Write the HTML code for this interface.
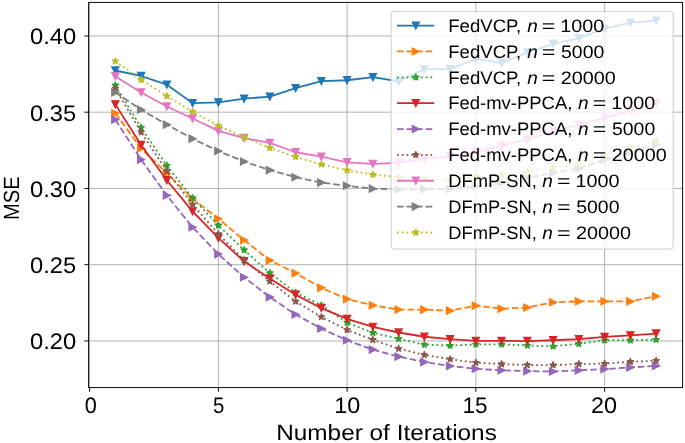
<!DOCTYPE html>
<html><head><meta charset="utf-8"><style>html,body{margin:0;padding:0;background:#fff;}svg{display:block;font-family:"Liberation Sans",sans-serif;text-rendering:geometricPrecision;filter:blur(0.3px);}</style></head><body>
<svg width="685" height="443" viewBox="0 0 685 443">
<rect width="685" height="443" fill="#fff"/>
<defs><clipPath id="ax"><rect x="88.6" y="2.4" width="594" height="385.2"/></clipPath></defs>
<path d="M89.6,2.4V387.6M218.35,2.4V387.6M347.1,2.4V387.6M475.85,2.4V387.6M604.6,2.4V387.6M88.6,340.94H682.6M88.6,264.69H682.6M88.6,188.44H682.6M88.6,112.19H682.6M88.6,35.94H682.6" stroke="#b0b0b0" stroke-width="0.96" fill="none"/>
<g clip-path="url(#ax)">
<polyline points="115.35,70.5 141.1,75.99 166.85,84.68 192.6,103.14 218.35,102.37 244.1,98.71 269.85,96.58 295.6,88.19 321.35,81.18 347.1,80.26 372.85,77.21 398.6,81.33 424.35,69.13 450.1,69.13 475.85,58.91 501.6,63.18 527.35,52.5 553.1,43.81 578.85,38.17 604.6,28.71 630.35,22.62 656.1,20.63" fill="none" stroke="#1f77b4" stroke-width="1.8" stroke-linejoin="round"/>
<path d="M115.35,74.1L111.75,66.9L118.95,66.9ZM141.1,79.59L137.5,72.39L144.7,72.39ZM166.85,88.28L163.25,81.08L170.45,81.08ZM192.6,106.73L189,99.54L196.2,99.54ZM218.35,105.97L214.75,98.77L221.95,98.77ZM244.1,102.31L240.5,95.11L247.7,95.11ZM269.85,100.18L266.25,92.98L273.45,92.98ZM295.6,91.79L292,84.59L299.2,84.59ZM321.35,84.78L317.75,77.58L324.95,77.58ZM347.1,83.86L343.5,76.66L350.7,76.66ZM372.85,80.81L369.25,73.61L376.45,73.61ZM398.6,84.93L395,77.73L402.2,77.73ZM424.35,72.73L420.75,65.53L427.95,65.53ZM450.1,72.73L446.5,65.53L453.7,65.53ZM475.85,62.51L472.25,55.31L479.45,55.31ZM501.6,66.78L498,59.58L505.2,59.58ZM527.35,56.1L523.75,48.9L530.95,48.9ZM553.1,47.41L549.5,40.21L556.7,40.21ZM578.85,41.77L575.25,34.57L582.45,34.57ZM604.6,32.31L601,25.11L608.2,25.11ZM630.35,26.22L626.75,19.02L633.95,19.02ZM656.1,24.23L652.5,17.03L659.7,17.03Z" fill="#1f77b4" stroke="#1f77b4" stroke-width="1.2" stroke-linejoin="miter"/>
<polyline points="115.35,113.2 141.1,148.43 166.85,173.29 192.6,198.75 218.35,218.73 244.1,240.08 269.85,260.36 295.6,273.17 321.35,287.81 347.1,299.1 372.85,305.35 398.6,309.62 424.35,309.62 450.1,310.69 475.85,305.66 501.6,308.7 527.35,307.49 553.1,302.3 578.85,301.38 604.6,301.38 630.35,301.38 656.1,296.2" fill="none" stroke="#ff7f0e" stroke-width="1.8" stroke-linejoin="round" stroke-dasharray="6.66,2.88"/>
<path d="M118.95,113.2L111.75,109.6L111.75,116.8ZM144.7,148.43L137.5,144.83L137.5,152.03ZM170.45,173.29L163.25,169.69L163.25,176.89ZM196.2,198.75L189,195.15L189,202.35ZM221.95,218.73L214.75,215.13L214.75,222.33ZM247.7,240.08L240.5,236.48L240.5,243.68ZM273.45,260.36L266.25,256.76L266.25,263.96ZM299.2,273.17L292,269.57L292,276.77ZM324.95,287.81L317.75,284.21L317.75,291.41ZM350.7,299.1L343.5,295.5L343.5,302.7ZM376.45,305.35L369.25,301.75L369.25,308.95ZM402.2,309.62L395,306.02L395,313.22ZM427.95,309.62L420.75,306.02L420.75,313.22ZM453.7,310.69L446.5,307.09L446.5,314.29ZM479.45,305.66L472.25,302.06L472.25,309.26ZM505.2,308.7L498,305.1L498,312.31ZM530.95,307.49L523.75,303.88L523.75,311.09ZM556.7,302.3L549.5,298.7L549.5,305.9ZM582.45,301.38L575.25,297.78L575.25,304.99ZM608.2,301.38L601,297.78L601,304.99ZM633.95,301.38L626.75,297.78L626.75,304.99ZM659.7,296.2L652.5,292.6L652.5,299.8Z" fill="#ff7f0e" stroke="#ff7f0e" stroke-width="1.2" stroke-linejoin="miter"/>
<polyline points="115.35,85.29 141.1,127.54 166.85,165.66 192.6,197.99 218.35,225.29 244.1,249.99 269.85,273.02 295.6,292.54 321.35,305.2 347.1,322.58 372.85,332.8 398.6,338.75 424.35,344.69 450.1,345.61 475.85,344.39 501.6,344.39 527.35,345.46 553.1,346.37 578.85,343.78 604.6,340.27 630.35,340.27 656.1,339.66" fill="none" stroke="#2ca02c" stroke-width="1.8" stroke-linejoin="round" stroke-dasharray="1.8,2.97"/>
<path d="M115.35,81.69L114.54,84.18L111.93,84.18L114.04,85.72L113.23,88.2L115.35,86.67L117.47,88.2L116.66,85.72L118.77,84.18L116.16,84.18ZM141.1,123.94L140.29,126.42L137.68,126.42L139.79,127.96L138.98,130.45L141.1,128.91L143.22,130.45L142.41,127.96L144.52,126.42L141.91,126.42ZM166.85,162.06L166.04,164.55L163.43,164.55L165.54,166.08L164.73,168.57L166.85,167.04L168.97,168.57L168.16,166.08L170.27,164.55L167.66,164.55ZM192.6,194.39L191.79,196.88L189.18,196.88L191.29,198.41L190.48,200.9L192.6,199.37L194.72,200.9L193.91,198.41L196.02,196.88L193.41,196.88ZM218.35,221.69L217.54,224.18L214.93,224.18L217.04,225.71L216.23,228.2L218.35,226.66L220.47,228.2L219.66,225.71L221.77,224.18L219.16,224.18ZM244.1,246.39L243.29,248.88L240.68,248.88L242.79,250.42L241.98,252.9L244.1,251.37L246.22,252.9L245.41,250.42L247.52,248.88L244.91,248.88ZM269.85,269.42L269.04,271.91L266.43,271.91L268.54,273.44L267.73,275.93L269.85,274.4L271.97,275.93L271.16,273.44L273.27,271.91L270.66,271.91ZM295.6,288.94L294.79,291.43L292.18,291.43L294.29,292.96L293.48,295.45L295.6,293.92L297.72,295.45L296.91,292.96L299.02,291.43L296.41,291.43ZM321.35,301.6L320.54,304.09L317.93,304.09L320.04,305.62L319.23,308.11L321.35,306.57L323.47,308.11L322.66,305.62L324.77,304.09L322.16,304.09ZM347.1,318.98L346.29,321.47L343.68,321.47L345.79,323.01L344.98,325.49L347.1,323.96L349.22,325.49L348.41,323.01L350.52,321.47L347.91,321.47ZM372.85,329.2L372.04,331.69L369.43,331.69L371.54,333.22L370.73,335.71L372.85,334.18L374.97,335.71L374.16,333.22L376.27,331.69L373.66,331.69ZM398.6,335.15L397.79,337.64L395.18,337.64L397.29,339.17L396.48,341.66L398.6,340.12L400.72,341.66L399.91,339.17L402.02,337.64L399.41,337.64ZM424.35,341.09L423.54,343.58L420.93,343.58L423.04,345.12L422.23,347.61L424.35,346.07L426.47,347.61L425.66,345.12L427.77,343.58L425.16,343.58ZM450.1,342.01L449.29,344.5L446.68,344.5L448.79,346.03L447.98,348.52L450.1,346.99L452.22,348.52L451.41,346.03L453.52,344.5L450.91,344.5ZM475.85,340.79L475.04,343.28L472.43,343.28L474.54,344.81L473.73,347.3L475.85,345.77L477.97,347.3L477.16,344.81L479.27,343.28L476.66,343.28ZM501.6,340.79L500.79,343.28L498.18,343.28L500.29,344.81L499.48,347.3L501.6,345.77L503.72,347.3L502.91,344.81L505.02,343.28L502.41,343.28ZM527.35,341.86L526.54,344.35L523.93,344.35L526.04,345.88L525.23,348.37L527.35,346.83L529.47,348.37L528.66,345.88L530.77,344.35L528.16,344.35ZM553.1,342.77L552.29,345.26L549.68,345.26L551.79,346.8L550.98,349.28L553.1,347.75L555.22,349.28L554.41,346.8L556.52,345.26L553.91,345.26ZM578.85,340.18L578.04,342.67L575.43,342.67L577.54,344.2L576.73,346.69L578.85,345.16L580.97,346.69L580.16,344.2L582.27,342.67L579.66,342.67ZM604.6,336.67L603.79,339.16L601.18,339.16L603.29,340.7L602.48,343.18L604.6,341.65L606.72,343.18L605.91,340.7L608.02,339.16L605.41,339.16ZM630.35,336.67L629.54,339.16L626.93,339.16L629.04,340.7L628.23,343.18L630.35,341.65L632.47,343.18L631.66,340.7L633.77,339.16L631.16,339.16ZM656.1,336.06L655.29,338.55L652.68,338.55L654.79,340.09L653.98,342.57L656.1,341.04L658.22,342.57L657.41,340.09L659.52,338.55L656.91,338.55Z" fill="#2ca02c" stroke="#2ca02c" stroke-width="1.2" stroke-linejoin="bevel"/>
<polyline points="115.35,104.36 141.1,144.92 166.85,180.3 192.6,211.41 218.35,237.95 244.1,261.28 269.85,278.51 295.6,294.68 321.35,308.1 347.1,318.92 372.85,326.85 398.6,332.5 424.35,336.76 450.1,339.21 475.85,340.88 501.6,340.88 527.35,341.04 553.1,340.27 578.85,339.21 604.6,336.92 630.35,335.39 656.1,333.56" fill="none" stroke="#d62728" stroke-width="1.8" stroke-linejoin="round"/>
<path d="M115.35,107.96L111.75,100.76L118.95,100.76ZM141.1,148.52L137.5,141.32L144.7,141.32ZM166.85,183.9L163.25,176.7L170.45,176.7ZM192.6,215.01L189,207.81L196.2,207.81ZM218.35,241.55L214.75,234.35L221.95,234.35ZM244.1,264.88L240.5,257.68L247.7,257.68ZM269.85,282.11L266.25,274.91L273.45,274.91ZM295.6,298.28L292,291.07L299.2,291.07ZM321.35,311.7L317.75,304.5L324.95,304.5ZM347.1,322.52L343.5,315.32L350.7,315.32ZM372.85,330.45L369.25,323.25L376.45,323.25ZM398.6,336.1L395,328.89L402.2,328.89ZM424.35,340.37L420.75,333.16L427.95,333.16ZM450.1,342.81L446.5,335.61L453.7,335.61ZM475.85,344.48L472.25,337.28L479.45,337.28ZM501.6,344.48L498,337.28L505.2,337.28ZM527.35,344.64L523.75,337.44L530.95,337.44ZM553.1,343.87L549.5,336.67L556.7,336.67ZM578.85,342.81L575.25,335.61L582.45,335.61ZM604.6,340.52L601,333.32L608.2,333.32ZM630.35,338.99L626.75,331.79L633.95,331.79ZM656.1,337.16L652.5,329.96L659.7,329.96Z" fill="#d62728" stroke="#d62728" stroke-width="1.2" stroke-linejoin="miter"/>
<polyline points="115.35,119.61 141.1,159.56 166.85,195.4 192.6,227.27 218.35,254.11 244.1,277.29 269.85,297.12 295.6,314.5 321.35,328.53 347.1,340.27 372.85,349.57 398.6,356.59 424.35,362.08 450.1,366.05 475.85,368.79 501.6,370.31 527.35,371.08 553.1,371.54 578.85,370.31 604.6,369.1 630.35,367.42 656.1,365.89" fill="none" stroke="#9467bd" stroke-width="1.8" stroke-linejoin="round" stroke-dasharray="6.66,2.88"/>
<path d="M118.95,119.61L111.75,116.01L111.75,123.21ZM144.7,159.56L137.5,155.96L137.5,163.16ZM170.45,195.4L163.25,191.8L163.25,199ZM196.2,227.27L189,223.67L189,230.87ZM221.95,254.11L214.75,250.51L214.75,257.71ZM247.7,277.29L240.5,273.69L240.5,280.89ZM273.45,297.12L266.25,293.51L266.25,300.72ZM299.2,314.5L292,310.9L292,318.1ZM324.95,328.53L317.75,324.93L317.75,332.13ZM350.7,340.27L343.5,336.67L343.5,343.87ZM376.45,349.57L369.25,345.97L369.25,353.18ZM402.2,356.59L395,352.99L395,360.19ZM427.95,362.08L420.75,358.48L420.75,365.68ZM453.7,366.05L446.5,362.44L446.5,369.65ZM479.45,368.79L472.25,365.19L472.25,372.39ZM505.2,370.31L498,366.71L498,373.92ZM530.95,371.08L523.75,367.48L523.75,374.68ZM556.7,371.54L549.5,367.94L549.5,375.14ZM582.45,370.31L575.25,366.71L575.25,373.92ZM608.2,369.1L601,365.5L601,372.7ZM633.95,367.42L626.75,363.82L626.75,371.02ZM659.7,365.89L652.5,362.29L652.5,369.49Z" fill="#9467bd" stroke="#9467bd" stroke-width="1.2" stroke-linejoin="miter"/>
<polyline points="115.35,88.34 141.1,132.11 166.85,171 192.6,204.55 218.35,233.98 244.1,260.06 269.85,281.41 295.6,301.38 321.35,316.94 347.1,329.9 372.85,339.81 398.6,348.66 424.35,354.91 450.1,359.18 475.85,362.69 501.6,364.06 527.35,364.98 553.1,365.13 578.85,364.06 604.6,363.61 630.35,361.78 656.1,360.71" fill="none" stroke="#8c564b" stroke-width="1.8" stroke-linejoin="round" stroke-dasharray="1.8,2.97"/>
<path d="M115.35,84.74L114.54,87.23L111.93,87.23L114.04,88.77L113.23,91.25L115.35,89.72L117.47,91.25L116.66,88.77L118.77,87.23L116.16,87.23ZM141.1,128.51L140.29,131L137.68,131L139.79,132.53L138.98,135.02L141.1,133.49L143.22,135.02L142.41,132.53L144.52,131L141.91,131ZM166.85,167.4L166.04,169.89L163.43,169.89L165.54,171.42L164.73,173.91L166.85,172.37L168.97,173.91L168.16,171.42L170.27,169.89L167.66,169.89ZM192.6,200.95L191.79,203.44L189.18,203.44L191.29,204.97L190.48,207.46L192.6,205.92L194.72,207.46L193.91,204.97L196.02,203.44L193.41,203.44ZM218.35,230.38L217.54,232.87L214.93,232.87L217.04,234.4L216.23,236.89L218.35,235.36L220.47,236.89L219.66,234.4L221.77,232.87L219.16,232.87ZM244.1,256.46L243.29,258.95L240.68,258.95L242.79,260.48L241.98,262.97L244.1,261.43L246.22,262.97L245.41,260.48L247.52,258.95L244.91,258.95ZM269.85,277.81L269.04,280.3L266.43,280.3L268.54,281.83L267.73,284.32L269.85,282.78L271.97,284.32L271.16,281.83L273.27,280.3L270.66,280.3ZM295.6,297.78L294.79,300.27L292.18,300.27L294.29,301.81L293.48,304.3L295.6,302.76L297.72,304.3L296.91,301.81L299.02,300.27L296.41,300.27ZM321.35,313.34L320.54,315.83L317.93,315.83L320.04,317.36L319.23,319.85L321.35,318.32L323.47,319.85L322.66,317.36L324.77,315.83L322.16,315.83ZM347.1,326.3L346.29,328.79L343.68,328.79L345.79,330.33L344.98,332.81L347.1,331.28L349.22,332.81L348.41,330.33L350.52,328.79L347.91,328.79ZM372.85,336.21L372.04,338.7L369.43,338.7L371.54,340.24L370.73,342.73L372.85,341.19L374.97,342.73L374.16,340.24L376.27,338.7L373.66,338.7ZM398.6,345.06L397.79,347.55L395.18,347.55L397.29,349.08L396.48,351.57L398.6,350.04L400.72,351.57L399.91,349.08L402.02,347.55L399.41,347.55ZM424.35,351.31L423.54,353.8L420.93,353.8L423.04,355.34L422.23,357.82L424.35,356.29L426.47,357.82L425.66,355.34L427.77,353.8L425.16,353.8ZM450.1,355.58L449.29,358.07L446.68,358.07L448.79,359.61L447.98,362.09L450.1,360.56L452.22,362.09L451.41,359.61L453.52,358.07L450.91,358.07ZM475.85,359.09L475.04,361.58L472.43,361.58L474.54,363.11L473.73,365.6L475.85,364.07L477.97,365.6L477.16,363.11L479.27,361.58L476.66,361.58ZM501.6,360.46L500.79,362.95L498.18,362.95L500.29,364.49L499.48,366.97L501.6,365.44L503.72,366.97L502.91,364.49L505.02,362.95L502.41,362.95ZM527.35,361.38L526.54,363.87L523.93,363.87L526.04,365.4L525.23,367.89L527.35,366.35L529.47,367.89L528.66,365.4L530.77,363.87L528.16,363.87ZM553.1,361.53L552.29,364.02L549.68,364.02L551.79,365.55L550.98,368.04L553.1,366.51L555.22,368.04L554.41,365.55L556.52,364.02L553.91,364.02ZM578.85,360.46L578.04,362.95L575.43,362.95L577.54,364.49L576.73,366.97L578.85,365.44L580.97,366.97L580.16,364.49L582.27,362.95L579.66,362.95ZM604.6,360L603.79,362.49L601.18,362.49L603.29,364.03L602.48,366.52L604.6,364.98L606.72,366.52L605.91,364.03L608.02,362.49L605.41,362.49ZM630.35,358.18L629.54,360.66L626.93,360.66L629.04,362.2L628.23,364.69L630.35,363.15L632.47,364.69L631.66,362.2L633.77,360.66L631.16,360.66ZM656.1,357.11L655.29,359.6L652.68,359.6L654.79,361.13L653.98,363.62L656.1,362.08L658.22,363.62L657.41,361.13L659.52,359.6L656.91,359.6Z" fill="#8c564b" stroke="#8c564b" stroke-width="1.2" stroke-linejoin="bevel"/>
<polyline points="115.35,76.3 141.1,92.46 166.85,106.49 192.6,118.54 218.35,130.89 244.1,138.06 269.85,142.94 295.6,152.24 321.35,156.66 347.1,162.31 372.85,163.83 398.6,162.92 424.35,158.95 450.1,156.36 475.85,151.78 501.6,145.68 527.35,139.58 553.1,130.89 578.85,124.79 604.6,117.78 630.35,110.91 656.1,103.14" fill="none" stroke="#e377c2" stroke-width="1.8" stroke-linejoin="round"/>
<path d="M115.35,79.89L111.75,72.7L118.95,72.7ZM141.1,96.06L137.5,88.86L144.7,88.86ZM166.85,110.09L163.25,102.89L170.45,102.89ZM192.6,122.14L189,114.94L196.2,114.94ZM218.35,134.49L214.75,127.29L221.95,127.29ZM244.1,141.66L240.5,134.46L247.7,134.46ZM269.85,146.54L266.25,139.34L273.45,139.34ZM295.6,155.84L292,148.64L299.2,148.64ZM321.35,160.26L317.75,153.06L324.95,153.06ZM347.1,165.91L343.5,158.71L350.7,158.71ZM372.85,167.43L369.25,160.23L376.45,160.23ZM398.6,166.52L395,159.32L402.2,159.32ZM424.35,162.55L420.75,155.35L427.95,155.35ZM450.1,159.96L446.5,152.76L453.7,152.76ZM475.85,155.38L472.25,148.18L479.45,148.18ZM501.6,149.28L498,142.08L505.2,142.08ZM527.35,143.18L523.75,135.98L530.95,135.98ZM553.1,134.49L549.5,127.29L556.7,127.29ZM578.85,128.39L575.25,121.19L582.45,121.19ZM604.6,121.38L601,114.18L608.2,114.18ZM630.35,114.51L626.75,107.31L633.95,107.31ZM656.1,106.73L652.5,99.54L659.7,99.54Z" fill="#e377c2" stroke="#e377c2" stroke-width="1.2" stroke-linejoin="miter"/>
<polyline points="115.35,92.46 141.1,109.69 166.85,124.64 192.6,138.67 218.35,151.02 244.1,161.54 269.85,170.08 295.6,177.25 321.35,182.59 347.1,185.79 372.85,188.69 398.6,189.45 424.35,189.15 450.1,188.99 475.85,186.4 501.6,182.89 527.35,177.71 553.1,172.83 578.85,168.41 604.6,159.87 630.35,152.24 656.1,144.62" fill="none" stroke="#7f7f7f" stroke-width="1.8" stroke-linejoin="round" stroke-dasharray="6.66,2.88"/>
<path d="M118.95,92.46L111.75,88.86L111.75,96.06ZM144.7,109.69L137.5,106.09L137.5,113.29ZM170.45,124.64L163.25,121.04L163.25,128.24ZM196.2,138.67L189,135.07L189,142.27ZM221.95,151.02L214.75,147.42L214.75,154.62ZM247.7,161.54L240.5,157.94L240.5,165.14ZM273.45,170.08L266.25,166.48L266.25,173.68ZM299.2,177.25L292,173.65L292,180.85ZM324.95,182.59L317.75,178.99L317.75,186.19ZM350.7,185.79L343.5,182.19L343.5,189.39ZM376.45,188.69L369.25,185.09L369.25,192.29ZM402.2,189.45L395,185.85L395,193.05ZM427.95,189.15L420.75,185.55L420.75,192.75ZM453.7,188.99L446.5,185.39L446.5,192.59ZM479.45,186.4L472.25,182.8L472.25,190ZM505.2,182.89L498,179.29L498,186.49ZM530.95,177.71L523.75,174.11L523.75,181.31ZM556.7,172.83L549.5,169.23L549.5,176.43ZM582.45,168.41L575.25,164.81L575.25,172.01ZM608.2,159.87L601,156.27L601,163.47ZM633.95,152.24L626.75,148.64L626.75,155.84ZM659.7,144.62L652.5,141.02L652.5,148.22Z" fill="#7f7f7f" stroke="#7f7f7f" stroke-width="1.2" stroke-linejoin="miter"/>
<polyline points="115.35,61.2 141.1,79.8 166.85,96.12 192.6,111.67 218.35,125.71 244.1,137.45 269.85,147.82 295.6,156.82 321.35,164.44 347.1,170.24 372.85,174.66 398.6,177.1 424.35,178.62 450.1,179.84 475.85,176.79 501.6,174.96 527.35,171.46 553.1,167.34 578.85,162.76 604.6,155.14 630.35,147.51 656.1,140.8" fill="none" stroke="#bcbd22" stroke-width="1.8" stroke-linejoin="round" stroke-dasharray="1.8,2.97"/>
<path d="M115.35,57.6L114.54,60.09L111.93,60.09L114.04,61.62L113.23,64.11L115.35,62.57L117.47,64.11L116.66,61.62L118.77,60.09L116.16,60.09ZM141.1,76.2L140.29,78.69L137.68,78.69L139.79,80.23L138.98,82.71L141.1,81.18L143.22,82.71L142.41,80.23L144.52,78.69L141.91,78.69ZM166.85,92.52L166.04,95.01L163.43,95.01L165.54,96.54L164.73,99.03L166.85,97.5L168.97,99.03L168.16,96.54L170.27,95.01L167.66,95.01ZM192.6,108.08L191.79,110.56L189.18,110.56L191.29,112.1L190.48,114.59L192.6,113.05L194.72,114.59L193.91,112.1L196.02,110.56L193.41,110.56ZM218.35,122.11L217.54,124.59L214.93,124.59L217.04,126.13L216.23,128.62L218.35,127.08L220.47,128.62L219.66,126.13L221.77,124.59L219.16,124.59ZM244.1,133.85L243.29,136.34L240.68,136.34L242.79,137.87L241.98,140.36L244.1,138.82L246.22,140.36L245.41,137.87L247.52,136.34L244.91,136.34ZM269.85,144.22L269.04,146.71L266.43,146.71L268.54,148.24L267.73,150.73L269.85,149.19L271.97,150.73L271.16,148.24L273.27,146.71L270.66,146.71ZM295.6,153.22L294.79,155.7L292.18,155.7L294.29,157.24L293.48,159.73L295.6,158.19L297.72,159.73L296.91,157.24L299.02,155.7L296.41,155.7ZM321.35,160.84L320.54,163.33L317.93,163.33L320.04,164.86L319.23,167.35L321.35,165.82L323.47,167.35L322.66,164.86L324.77,163.33L322.16,163.33ZM347.1,166.64L346.29,169.12L343.68,169.12L345.79,170.66L344.98,173.15L347.1,171.61L349.22,173.15L348.41,170.66L350.52,169.12L347.91,169.12ZM372.85,171.06L372.04,173.55L369.43,173.55L371.54,175.08L370.73,177.57L372.85,176.03L374.97,177.57L374.16,175.08L376.27,173.55L373.66,173.55ZM398.6,173.5L397.79,175.99L395.18,175.99L397.29,177.52L396.48,180.01L398.6,178.47L400.72,180.01L399.91,177.52L402.02,175.99L399.41,175.99ZM424.35,175.02L423.54,177.51L420.93,177.51L423.04,179.05L422.23,181.53L424.35,180L426.47,181.53L425.66,179.05L427.77,177.51L425.16,177.51ZM450.1,176.24L449.29,178.73L446.68,178.73L448.79,180.27L447.98,182.75L450.1,181.22L452.22,182.75L451.41,180.27L453.52,178.73L450.91,178.73ZM475.85,173.19L475.04,175.68L472.43,175.68L474.54,177.22L473.73,179.7L475.85,178.17L477.97,179.7L477.16,177.22L479.27,175.68L476.66,175.68ZM501.6,171.36L500.79,173.85L498.18,173.85L500.29,175.39L499.48,177.87L501.6,176.34L503.72,177.87L502.91,175.39L505.02,173.85L502.41,173.85ZM527.35,167.86L526.54,170.34L523.93,170.34L526.04,171.88L525.23,174.37L527.35,172.83L529.47,174.37L528.66,171.88L530.77,170.34L528.16,170.34ZM553.1,163.74L552.29,166.23L549.68,166.23L551.79,167.76L550.98,170.25L553.1,168.71L555.22,170.25L554.41,167.76L556.52,166.23L553.91,166.23ZM578.85,159.16L578.04,161.65L575.43,161.65L577.54,163.19L576.73,165.67L578.85,164.14L580.97,165.67L580.16,163.19L582.27,161.65L579.66,161.65ZM604.6,151.54L603.79,154.03L601.18,154.03L603.29,155.56L602.48,158.05L604.6,156.51L606.72,158.05L605.91,155.56L608.02,154.03L605.41,154.03ZM630.35,143.91L629.54,146.4L626.93,146.4L629.04,147.94L628.23,150.42L630.35,148.89L632.47,150.42L631.66,147.94L633.77,146.4L631.16,146.4ZM656.1,137.2L655.29,139.69L652.68,139.69L654.79,141.23L653.98,143.71L656.1,142.18L658.22,143.71L657.41,141.23L659.52,139.69L656.91,139.69Z" fill="#bcbd22" stroke="#bcbd22" stroke-width="1.2" stroke-linejoin="bevel"/>
</g>
<rect x="88.6" y="2.4" width="594" height="385.2" fill="none" stroke="#000" stroke-width="0.96"/>
<path d="M89.6,387.6v4.2M218.35,387.6v4.2M347.1,387.6v4.2M475.85,387.6v4.2M604.6,387.6v4.2M88.6,340.94h-4.2M88.6,264.69h-4.2M88.6,188.44h-4.2M88.6,112.19h-4.2M88.6,35.94h-4.2" stroke="#000" stroke-width="0.96" fill="none"/>
<text x="29.95" y="349.34" font-size="22.5" textLength="46.19" lengthAdjust="spacingAndGlyphs">0.20</text>
<text x="29.95" y="273.09" font-size="22.5" textLength="46.19" lengthAdjust="spacingAndGlyphs">0.25</text>
<text x="29.95" y="196.84" font-size="22.5" textLength="46.19" lengthAdjust="spacingAndGlyphs">0.30</text>
<text x="29.95" y="120.59" font-size="22.5" textLength="46.19" lengthAdjust="spacingAndGlyphs">0.35</text>
<text x="29.95" y="44.34" font-size="22.5" textLength="46.19" lengthAdjust="spacingAndGlyphs">0.40</text>
<text x="84.83" y="413.40" font-size="22.5" textLength="12.05" lengthAdjust="spacingAndGlyphs">0</text>
<text x="212.88" y="413.40" font-size="22.5" textLength="11.34" lengthAdjust="spacingAndGlyphs">5</text>
<text x="334.24" y="413.40" font-size="22.5" textLength="25.92" lengthAdjust="spacingAndGlyphs">10</text>
<text x="462.50" y="413.40" font-size="22.5" textLength="25.03" lengthAdjust="spacingAndGlyphs">15</text>
<text x="591.06" y="413.40" font-size="22.5" textLength="26.01" lengthAdjust="spacingAndGlyphs">20</text>
<text x="276.21" y="439.60" font-size="22" textLength="220.60" lengthAdjust="spacingAndGlyphs">Number of Iterations</text>
<text transform="rotate(-90)" x="-219.95" y="18.60" font-size="22" textLength="43.64" lengthAdjust="spacingAndGlyphs">MSE</text>
<rect x="391.1" y="11.5" width="282.1" height="237.6" rx="3" ry="3" fill="#fff" fill-opacity="0.8" stroke="#ccc" stroke-opacity="0.8" stroke-width="1.2"/>
<path d="M397,25.6H434.2" stroke="#1f77b4" stroke-width="1.8" fill="none"/>
<path d="M415.8,29.2L412.2,22L419.4,22Z" fill="#1f77b4" stroke="#1f77b4" stroke-width="1.2" stroke-linejoin="miter"/>
<text x="448.25" y="31.80" font-size="18" textLength="73.01" lengthAdjust="spacingAndGlyphs">FedVCP,</text>
<text x="527.18" y="31.80" font-size="18" textLength="10.57" lengthAdjust="spacingAndGlyphs" font-style="italic">n</text>
<text x="541.84" y="31.80" font-size="18" textLength="13.53" lengthAdjust="spacingAndGlyphs">=</text>
<text x="560.26" y="31.80" font-size="18" textLength="44.06" lengthAdjust="spacingAndGlyphs">1000</text>
<path d="M397,51.46H434.2" stroke="#ff7f0e" stroke-width="1.8" fill="none" stroke-dasharray="6.66,2.88"/>
<path d="M419.4,51.46L412.2,47.86L412.2,55.06Z" fill="#ff7f0e" stroke="#ff7f0e" stroke-width="1.2" stroke-linejoin="miter"/>
<text x="448.25" y="57.66" font-size="18" textLength="73.01" lengthAdjust="spacingAndGlyphs">FedVCP,</text>
<text x="527.18" y="57.66" font-size="18" textLength="10.57" lengthAdjust="spacingAndGlyphs" font-style="italic">n</text>
<text x="541.84" y="57.66" font-size="18" textLength="13.53" lengthAdjust="spacingAndGlyphs">=</text>
<text x="561.04" y="57.66" font-size="18" textLength="43.26" lengthAdjust="spacingAndGlyphs">5000</text>
<path d="M397,77.32H434.2" stroke="#2ca02c" stroke-width="1.8" fill="none" stroke-dasharray="1.8,2.97"/>
<path d="M415.8,73.72L414.99,76.21L412.38,76.21L414.49,77.74L413.68,80.23L415.8,78.7L417.92,80.23L417.11,77.74L419.22,76.21L416.61,76.21Z" fill="#2ca02c" stroke="#2ca02c" stroke-width="1.2" stroke-linejoin="bevel"/>
<text x="448.25" y="83.52" font-size="18" textLength="73.01" lengthAdjust="spacingAndGlyphs">FedVCP,</text>
<text x="527.18" y="83.52" font-size="18" textLength="10.57" lengthAdjust="spacingAndGlyphs" font-style="italic">n</text>
<text x="541.84" y="83.52" font-size="18" textLength="13.53" lengthAdjust="spacingAndGlyphs">=</text>
<text x="560.81" y="83.52" font-size="18" textLength="55.02" lengthAdjust="spacingAndGlyphs">20000</text>
<path d="M397,103.18H434.2" stroke="#d62728" stroke-width="1.8" fill="none"/>
<path d="M415.8,106.78L412.2,99.58L419.4,99.58Z" fill="#d62728" stroke="#d62728" stroke-width="1.2" stroke-linejoin="miter"/>
<text x="448.26" y="109.38" font-size="18" textLength="124.10" lengthAdjust="spacingAndGlyphs">Fed-mv-PPCA,</text>
<text x="578.08" y="109.38" font-size="18" textLength="10.57" lengthAdjust="spacingAndGlyphs" font-style="italic">n</text>
<text x="592.74" y="109.38" font-size="18" textLength="13.53" lengthAdjust="spacingAndGlyphs">=</text>
<text x="611.16" y="109.38" font-size="18" textLength="44.06" lengthAdjust="spacingAndGlyphs">1000</text>
<path d="M397,129.04H434.2" stroke="#9467bd" stroke-width="1.8" fill="none" stroke-dasharray="6.66,2.88"/>
<path d="M419.4,129.04L412.2,125.44L412.2,132.64Z" fill="#9467bd" stroke="#9467bd" stroke-width="1.2" stroke-linejoin="miter"/>
<text x="448.26" y="135.24" font-size="18" textLength="124.10" lengthAdjust="spacingAndGlyphs">Fed-mv-PPCA,</text>
<text x="578.08" y="135.24" font-size="18" textLength="10.57" lengthAdjust="spacingAndGlyphs" font-style="italic">n</text>
<text x="592.74" y="135.24" font-size="18" textLength="13.53" lengthAdjust="spacingAndGlyphs">=</text>
<text x="611.94" y="135.24" font-size="18" textLength="43.26" lengthAdjust="spacingAndGlyphs">5000</text>
<path d="M397,154.9H434.2" stroke="#8c564b" stroke-width="1.8" fill="none" stroke-dasharray="1.8,2.97"/>
<path d="M415.8,151.3L414.99,153.79L412.38,153.79L414.49,155.32L413.68,157.81L415.8,156.28L417.92,157.81L417.11,155.32L419.22,153.79L416.61,153.79Z" fill="#8c564b" stroke="#8c564b" stroke-width="1.2" stroke-linejoin="bevel"/>
<text x="448.26" y="161.10" font-size="18" textLength="124.10" lengthAdjust="spacingAndGlyphs">Fed-mv-PPCA,</text>
<text x="578.08" y="161.10" font-size="18" textLength="10.57" lengthAdjust="spacingAndGlyphs" font-style="italic">n</text>
<text x="592.74" y="161.10" font-size="18" textLength="13.53" lengthAdjust="spacingAndGlyphs">=</text>
<text x="611.71" y="161.10" font-size="18" textLength="55.02" lengthAdjust="spacingAndGlyphs">20000</text>
<path d="M397,180.76H434.2" stroke="#e377c2" stroke-width="1.8" fill="none"/>
<path d="M415.8,184.36L412.2,177.16L419.4,177.16Z" fill="#e377c2" stroke="#e377c2" stroke-width="1.2" stroke-linejoin="miter"/>
<text x="448.27" y="186.96" font-size="18" textLength="88.45" lengthAdjust="spacingAndGlyphs">DFmP-SN,</text>
<text x="542.38" y="186.96" font-size="18" textLength="10.57" lengthAdjust="spacingAndGlyphs" font-style="italic">n</text>
<text x="557.04" y="186.96" font-size="18" textLength="13.53" lengthAdjust="spacingAndGlyphs">=</text>
<text x="575.46" y="186.96" font-size="18" textLength="44.06" lengthAdjust="spacingAndGlyphs">1000</text>
<path d="M397,206.62H434.2" stroke="#7f7f7f" stroke-width="1.8" fill="none" stroke-dasharray="6.66,2.88"/>
<path d="M419.4,206.62L412.2,203.02L412.2,210.22Z" fill="#7f7f7f" stroke="#7f7f7f" stroke-width="1.2" stroke-linejoin="miter"/>
<text x="448.27" y="212.82" font-size="18" textLength="88.45" lengthAdjust="spacingAndGlyphs">DFmP-SN,</text>
<text x="542.38" y="212.82" font-size="18" textLength="10.57" lengthAdjust="spacingAndGlyphs" font-style="italic">n</text>
<text x="557.04" y="212.82" font-size="18" textLength="13.53" lengthAdjust="spacingAndGlyphs">=</text>
<text x="576.24" y="212.82" font-size="18" textLength="43.26" lengthAdjust="spacingAndGlyphs">5000</text>
<path d="M397,232.48H434.2" stroke="#bcbd22" stroke-width="1.8" fill="none" stroke-dasharray="1.8,2.97"/>
<path d="M415.8,228.88L414.99,231.37L412.38,231.37L414.49,232.9L413.68,235.39L415.8,233.86L417.92,235.39L417.11,232.9L419.22,231.37L416.61,231.37Z" fill="#bcbd22" stroke="#bcbd22" stroke-width="1.2" stroke-linejoin="bevel"/>
<text x="448.27" y="238.68" font-size="18" textLength="88.45" lengthAdjust="spacingAndGlyphs">DFmP-SN,</text>
<text x="542.38" y="238.68" font-size="18" textLength="10.57" lengthAdjust="spacingAndGlyphs" font-style="italic">n</text>
<text x="557.04" y="238.68" font-size="18" textLength="13.53" lengthAdjust="spacingAndGlyphs">=</text>
<text x="576.01" y="238.68" font-size="18" textLength="55.02" lengthAdjust="spacingAndGlyphs">20000</text>
</svg></body></html>
